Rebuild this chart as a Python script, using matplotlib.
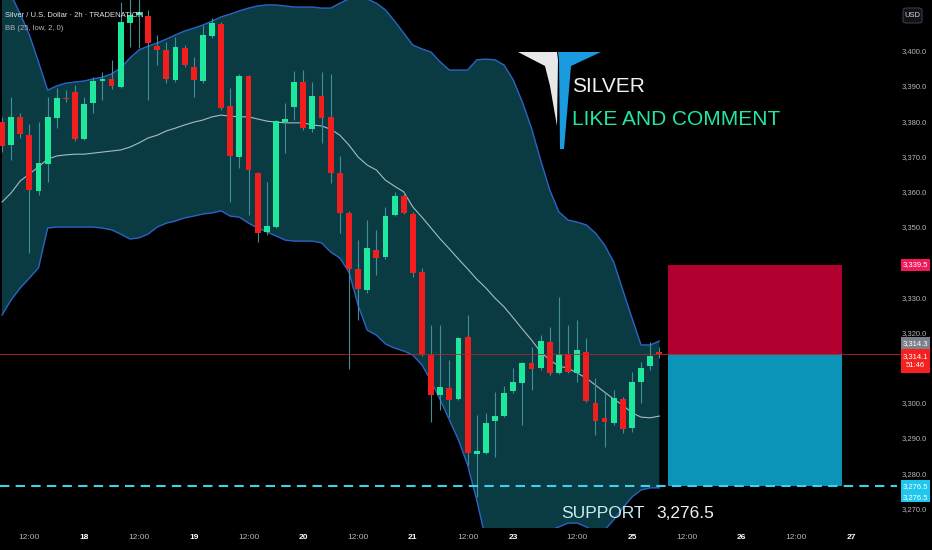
import matplotlib
matplotlib.use("Agg")
import matplotlib.pyplot as plt
import matplotlib.transforms as mtransforms
from matplotlib.patches import Rectangle, Polygon, FancyBboxPatch
import numpy as np

plt.rcParams['font.family'] = ['Liberation Sans', 'DejaVu Sans']

# ---- values: Silver / USD, 2h bars ----
opens = [3380.0, 3373.5, 3381.5, 3376.3, 3360.4, 3368.1, 3381.2, 3386.9, 3388.6, 3375.2,
         3385.4, 3391.7, 3392.3, 3390.0, 3408.2, 3410.4, 3410.2, 3401.6, 3400.5, 3392.0,
         3401.1, 3395.7, 3391.7, 3404.5, 3407.9, 3384.6, 3370.1, 3393.1, 3365.6, 3348.8,
         3350.2, 3380.0, 3384.3, 3391.4, 3378.0, 3387.4, 3381.5, 3365.6, 3354.2, 3338.3,
         3332.3, 3343.7, 3341.7, 3353.6, 3359.0, 3353.9, 3337.4, 3313.8, 3302.5, 3304.5,
         3301.3, 3319.0, 3285.7, 3286.0, 3295.1, 3296.5, 3303.6, 3305.9, 3311.6, 3310.1,
         3317.5, 3308.7, 3314.1, 3308.7, 3314.7, 3300.2, 3296.0, 3294.5, 3301.3, 3293.1,
         3306.2, 3310.7, 3314.3]
highs = [3381.5, 3387.1, 3382.6, 3379.5, 3380.0, 3387.1, 3389.7, 3389.1, 3390.6, 3387.1,
         3392.8, 3394.2, 3397.7, 3414.1, 3417.0, 3417.0, 3411.9, 3404.8, 3402.8, 3404.2,
         3401.9, 3398.5, 3407.6, 3409.6, 3408.4, 3389.7, 3393.7, 3393.4, 3365.8, 3363.0,
         3380.6, 3385.4, 3394.5, 3394.8, 3391.4, 3394.2, 3393.7, 3370.4, 3354.7, 3346.5,
         3352.2, 3349.4, 3355.9, 3360.2, 3359.9, 3354.5, 3338.6, 3322.4, 3322.4, 3312.4,
         3319.0, 3325.2, 3296.8, 3297.4, 3303.3, 3305.0, 3310.1, 3311.9, 3316.1, 3319.5,
         3321.8, 3330.3, 3322.4, 3323.8, 3318.7, 3307.3, 3303.0, 3303.9, 3301.9, 3309.0,
         3311.9, 3317.5, 3316.0]
lows = [3371.5, 3369.2, 3375.5, 3342.8, 3359.3, 3363.0, 3378.3, 3385.7, 3374.6, 3374.9,
        3382.6, 3386.3, 3389.4, 3389.7, 3401.3, 3401.1, 3386.3, 3396.2, 3391.1, 3391.4,
        3395.7, 3387.1, 3391.1, 3403.9, 3383.4, 3357.3, 3367.0, 3353.6, 3346.0, 3347.9,
        3349.9, 3371.2, 3380.6, 3377.8, 3377.2, 3374.1, 3362.7, 3348.5, 3309.9, 3323.8,
        3331.5, 3336.6, 3341.1, 3353.3, 3353.9, 3336.0, 3313.6, 3294.8, 3298.2, 3296.2,
        3301.1, 3282.6, 3273.5, 3285.7, 3284.9, 3296.2, 3303.0, 3294.0, 3303.9, 3309.6,
        3308.2, 3308.4, 3308.7, 3306.2, 3300.5, 3291.1, 3287.7, 3294.0, 3291.7, 3292.0,
        3300.2, 3309.6, 3313.0]
closes = [3373.3, 3381.5, 3376.6, 3360.7, 3368.4, 3381.5, 3386.9, 3386.5, 3375.2, 3385.2,
          3391.7, 3392.3, 3390.3, 3408.4, 3410.4, 3411.3, 3402.5, 3400.5, 3392.3, 3401.3,
          3396.2, 3392.0, 3404.8, 3408.2, 3384.0, 3370.4, 3393.1, 3366.4, 3348.5, 3350.5,
          3380.3, 3380.9, 3391.4, 3378.3, 3387.4, 3381.2, 3365.6, 3354.2, 3338.3, 3332.6,
          3344.2, 3341.4, 3353.3, 3359.0, 3354.2, 3337.1, 3313.8, 3302.5, 3304.7, 3301.1,
          3318.7, 3286.0, 3286.6, 3294.5, 3296.5, 3303.0, 3306.2, 3311.6, 3309.9, 3317.8,
          3308.7, 3314.1, 3309.0, 3315.3, 3300.8, 3295.1, 3294.8, 3301.6, 3292.8, 3306.2,
          3310.1, 3313.6, 3314.1]

# BB (25, low, 2, 0)
bb_upper = [3420.4, 3416.1, 3410.7, 3404.8, 3397.1, 3389.1, 3390.3, 3391.1, 3391.4, 3391.7,
            3392.3, 3392.8, 3393.7, 3395.4, 3398.2, 3400.5, 3401.6, 3402.5, 3403.6, 3404.8,
            3405.9, 3406.7, 3407.6, 3408.7, 3409.9, 3410.7, 3411.6, 3412.4, 3413.0, 3413.3,
            3413.3, 3413.0, 3412.7, 3412.7, 3412.7, 3412.4, 3412.4, 3413.8, 3415.0, 3415.3,
            3415.0, 3413.8, 3411.9, 3408.7, 3405.3, 3401.9, 3400.8, 3399.9, 3397.1, 3394.8,
            3394.8, 3394.8, 3397.7, 3397.9, 3397.7, 3396.2, 3392.0, 3385.7, 3378.3, 3369.2,
            3360.7, 3354.5, 3352.2, 3351.6, 3350.8, 3348.5, 3345.1, 3340.3, 3332.3, 3324.4,
            3316.7, 3316.7, 3317.8]
bb_mid = [3357.3, 3359.9, 3363.3, 3365.3, 3367.3, 3369.5, 3370.4, 3370.7, 3370.9, 3370.9,
          3371.2, 3371.5, 3371.8, 3372.1, 3372.9, 3374.1, 3375.5, 3376.3, 3377.5, 3378.3,
          3379.2, 3380.0, 3380.6, 3381.5, 3382.0, 3381.7, 3381.5, 3381.5, 3380.9, 3380.3,
          3380.0, 3379.8, 3379.8, 3379.8, 3379.2, 3378.9, 3378.0, 3376.3, 3373.5, 3370.1,
          3367.8, 3366.4, 3363.5, 3361.8, 3360.2, 3355.9, 3353.0, 3349.9, 3346.8, 3344.0,
          3341.1, 3338.3, 3335.4, 3332.9, 3330.0, 3327.5, 3324.4, 3321.2, 3318.1, 3314.7,
          3312.4, 3310.7, 3310.1, 3308.7, 3307.3, 3305.3, 3303.3, 3301.3, 3299.6, 3297.4,
          3296.2, 3296.0, 3296.5]
bb_lower = [3325.2, 3329.5, 3332.9, 3335.7, 3338.6, 3349.9, 3350.2, 3350.2, 3350.2, 3350.2,
            3350.2, 3349.9, 3349.4, 3348.2, 3346.8, 3347.1, 3348.2, 3350.2, 3351.3, 3351.9,
            3352.8, 3353.3, 3353.9, 3354.2, 3354.8, 3353.3, 3353.0, 3351.3, 3349.9, 3348.8,
            3347.7, 3346.5, 3346.2, 3346.2, 3346.2, 3345.7, 3343.1, 3341.4, 3337.4, 3328.0,
            3320.9, 3319.5, 3317.0, 3315.8, 3315.0, 3313.8, 3311.0, 3306.5, 3301.1, 3295.4,
            3289.7, 3282.6, 3272.6, 3261.3, 3258.4, 3259.9, 3261.3, 3262.7, 3262.7, 3263.6,
            3264.1, 3265.0, 3266.1, 3266.1, 3265.0, 3263.6, 3264.1, 3267.0, 3270.4, 3273.5,
            3275.5, 3276.1, 3276.1]

time_tick_pos = [3, 9, 15, 21, 27, 33, 39, 45, 51, 56, 63, 69, 75, 81, 87, 93]
time_tick_labels = ['12:00', '18', '12:00', '19', '12:00', '20', '12:00', '21',
                    '12:00', '23', '12:00', '25', '12:00', '26', '12:00', '27']
# 3,340.0 and 3,310.0 sit under the price tags in the screenshot
price_ticks = [3270.0, 3280.0, 3290.0, 3300.0, 3320.0, 3330.0,
               3350.0, 3360.0, 3370.0, 3380.0, 3390.0, 3400.0]

stop_price = 3339.5
entry_price = 3314.1
support_price = 3276.5
last_mark = 3314.3
countdown = '51:46'

# ---- colours ----
BG = '#000000'
GREEN = '#1ee89c'
RED = '#f21e1e'
WICK = '#3d8f9b'
BAND_FILL = '#0a3b42'
BAND_LINE = '#2b63c6'
MID_LINE = '#a6bcc4'

W, H = 932, 550
fig = plt.figure(figsize=(W / 100, H / 100), dpi=100, facecolor=BG)
ax = fig.add_axes([0, 22 / H, 880 / W, 528 / H])
ax.set_facecolor(BG)
for s in ax.spines.values():
    s.set_visible(False)

x = np.arange(len(opens))
o = np.array(opens); h = np.array(highs); l = np.array(lows); c = np.array(closes)

# bollinger band
ax.fill_between(x, bb_lower, bb_upper, color=BAND_FILL, lw=0, zorder=1)
ax.plot(x, bb_upper, color=BAND_LINE, lw=1.0, zorder=2)
ax.plot(x, bb_lower, color=BAND_LINE, lw=1.0, zorder=2)
ax.plot(x, bb_mid, color=MID_LINE, lw=0.8, zorder=2)

# candles
cols = np.where(c >= o, GREEN, RED)
ax.vlines(x, l, h, color=WICK, lw=0.8, zorder=3)
ax.bar(x, np.maximum(np.abs(c - o), 0.5), bottom=np.minimum(o, c), width=0.64,
       color=cols, linewidth=0, zorder=4)

# short position box
box_left, box_w = 72.9, 19.1
ax.add_patch(Rectangle((box_left, entry_price), box_w, stop_price - entry_price,
                       facecolor='#b1002f', lw=0, zorder=2))
ax.add_patch(Rectangle((box_left, support_price), box_w, entry_price - support_price,
                       facecolor='#0b93b8', lw=0, zorder=2))

ax.set_xlim(-0.22, 96.17)
ax.set_ylim(3264.7, 3414.7)

trans = mtransforms.blended_transform_factory(ax.transAxes, ax.transData)
ax.plot([0, 900 / 880], [entry_price] * 2, transform=trans, color='#b3262a',
        lw=0.6, clip_on=False, zorder=5)
ax.plot([0, 897 / 880], [support_price] * 2, transform=trans, color='#3fd0ea',
        lw=1.5, ls=(0, (4.5, 3)), clip_on=False, zorder=6)

# time axis
ax.set_xticks(time_tick_pos)
ax.set_xticklabels(time_tick_labels)
ax.set_yticks([])
ax.tick_params(axis='x', length=0, pad=4.5, colors='#b2b5be', labelsize=6)
for lab, t in zip(ax.get_xticklabels(), time_tick_labels):
    if ':' not in t:
        lab.set_color('#ffffff')
        lab.set_fontweight('bold')

# price axis
ytrans = mtransforms.blended_transform_factory(fig.transFigure, ax.transData)
for p in price_ticks:
    ax.text(927 / W, p, f'{p:,.1f}', transform=ytrans, ha='right', va='center',
            fontsize=5.5, color='#b2b5be', zorder=7)


def fig_y(price):
    disp = ax.transData.transform((0, price))
    return fig.transFigure.inverted().transform(disp)[1]


def tag(price, text, color, top_px, bot_px, txtcol='white'):
    yc = fig_y(price)
    y0 = yc - bot_px / H
    hgt = (bot_px - top_px) / H
    fig.add_artist(Rectangle((901 / W, y0), 29 / W, hgt, transform=fig.transFigure,
                             facecolor=color, lw=0, zorder=10))
    fig.text(915.5 / W, y0 + hgt / 2, text, ha='center', va='center', fontsize=5.5,
             color=txtcol, zorder=11, linespacing=1.3)


tag(stop_price, f'{stop_price:,.1f}', '#f2195a', -6, 6)
tag(entry_price, f'{last_mark:,.1f}', '#7d808a', -17, -5)
tag(entry_price, f'{entry_price:,.1f}\n{countdown}', '#f4211f', -5, 19)
tag(support_price, f'{support_price:,.1f}', '#1fc7ee', -6, 6)
tag(support_price, f'{support_price:,.1f}', '#1fc7ee', 6, 16)

# USD box
fig.add_artist(FancyBboxPatch((903 / W, 1 - 23 / H), 19 / W, 15 / H,
                              boxstyle='round,pad=0,rounding_size=0.004',
                              transform=fig.transFigure, facecolor='#111216',
                              edgecolor='#3a3d45', lw=0.8, zorder=10))
fig.text(912.5 / W, 1 - 15.5 / H, 'USD', ha='center', va='center', fontsize=5.5,
         color='#d1d4dc', zorder=11)

# header
fig.text(5 / W, 1 - 17 / H, 'Silver / U.S. Dollar · 2h · TRADENATION', fontsize=5.5,
         color='#e0e3eb', va='baseline', zorder=11)
fig.text(5 / W, 1 - 30 / H, 'BB (25, low, 2, 0)', fontsize=5.5, color='#b2b5be',
         va='baseline', zorder=11)


def px(pts):
    return [(a / W, 1 - b / H) for a, b in pts]


# logo
fig.add_artist(Polygon(px([(518, 52), (557, 52), (558, 60), (557, 126), (550, 86), (545, 66)]),
                       closed=True, transform=fig.transFigure, facecolor='#e8e8e8',
                       lw=0, zorder=10))
fig.add_artist(Polygon(px([(558, 52), (601, 52), (571, 66), (564, 149), (560, 149), (559, 60)]),
                       closed=True, transform=fig.transFigure, facecolor='#1a9be0',
                       lw=0, zorder=10))
fig.text(572 / W, 1 - 92 / H, 'SILVER', fontsize=15, color='#f2f2f2', va='baseline', zorder=11)
fig.text(572 / W, 1 - 125 / H, 'LIKE AND COMMENT', fontsize=15, color='#22e6a2',
         va='baseline', zorder=11)

# support caption
fig.text(561 / W, 1 - 518 / H, 'SUPPORT', fontsize=12.5, color='#c9eef2', va='baseline', zorder=11)
fig.text(656 / W, 1 - 518 / H, f'{support_price:,.1f}', fontsize=12.5, color='#f0f0f0',
         va='baseline', zorder=11)

fig.savefig('out.png', dpi=100, facecolor=BG)
